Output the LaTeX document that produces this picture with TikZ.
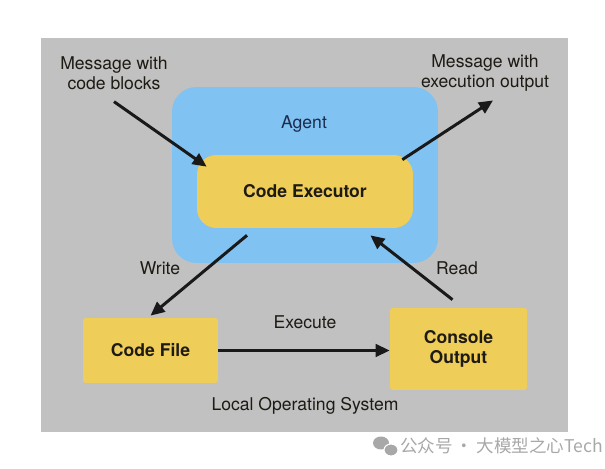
\documentclass[tikz,border=0pt]{standalone}
\usepackage{fontspec}
\setmainfont{TeX Gyre Heros}
\newfontfamily\cjk{Noto Sans CJK SC}
\usetikzlibrary{arrows.meta,positioning}
\definecolor{osgray}{HTML}{C1C1C1}
\definecolor{agentblue}{HTML}{80C2F2}
\definecolor{boxyellow}{HTML}{EECD58}
\definecolor{inktext}{HTML}{1E1A14}
\definecolor{agentink}{HTML}{1C2B4D}
\definecolor{wmgray}{HTML}{A8A8A8}
\begin{document}
\begin{tikzpicture}[x=0.02cm,y=-0.02cm]
\tikzset{
  osarea/.style={rectangle,fill=osgray,minimum width=10.54cm,minimum height=7.88cm,inner sep=0pt},
  agentarea/.style={rectangle,fill=agentblue,rounded corners=14pt,minimum width=5.32cm,minimum height=3.52cm,inner sep=0pt},
  execbox/.style={rectangle,fill=boxyellow,rounded corners=11pt,minimum width=4.32cm,minimum height=1.46cm,font=\bfseries,text=inktext},
  filebox/.style={rectangle,fill=boxyellow,rounded corners=1.5pt,align=center,font=\bfseries,text=inktext,inner sep=0pt},
  plainlabel/.style={align=center,text=inktext,inner sep=1pt,font=\fontsize{10}{11.4}\selectfont},
  flow/.style={draw=black!90,line width=1.7pt,-{Triangle[length=2.8mm,width=2.5mm]}}
}
\useasboundingbox (0,0) rectangle (605,469);
\node[osarea] (n_os) at (304.5,235) {};
\node[agentarea] (n_agent) at (305,175) {};
\node[execbox] (n_exec) at (305,191.5) {Code Executor};
\node[filebox,minimum width=2.7cm,minimum height=1.3cm] (n_file) at (150.5,350.5) {Code File};
\node[filebox,minimum width=2.74cm,minimum height=1.64cm] (n_console) at (458.5,349) {Console\\[-1pt]Output};
\node[plainlabel,text=agentink] (n_agentlbl) at (304,124) {Agent};
\node[plainlabel] (n_msgin) at (114,73) {Message with\\code blocks};
\node[plainlabel] (n_msgout) at (485,73) {Message with\\execution output};
\node[plainlabel] (n_write) at (160,268) {Write};
\node[plainlabel] (n_read) at (457,268) {Read};
\node[plainlabel] (n_run) at (305,322) {Execute};
\node[plainlabel] (n_oslbl) at (305,406) {Local Operating System};
\draw[flow] ([yshift=-0.2cm]n_msgin.south) -- ([xshift=0.2cm,yshift=-0.24cm]n_exec.north west);
\draw[flow] ([xshift=-0.22cm,yshift=-0.1cm]n_exec.north east) -- ([xshift=0.16cm,yshift=-0.14cm]n_msgout.south);
\draw[flow] ([xshift=-1.16cm,yshift=-0.14cm]n_exec.south) -- ([yshift=0.04cm]n_file.north);
\draw[flow] (n_file.east) -- (n_file.east -| n_console.west);
\draw[flow] ([xshift=-0.12cm,yshift=0.16cm]n_console.north) -- ([xshift=-0.86cm,yshift=-0.14cm]n_exec.south east);
% watermark
\fill[wmgray] (381,443) ellipse (8 and 6.5);
\fill[wmgray,draw=white,line width=0.6pt] (391,450) ellipse (7 and 6);
\node[anchor=west,text=wmgray,inner sep=0pt,font=\cjk\fontsize{10}{12}\selectfont] (n_mark) at (400,446) {公众号\,·\,大模型之心Tech};
\end{tikzpicture}
\end{document}
